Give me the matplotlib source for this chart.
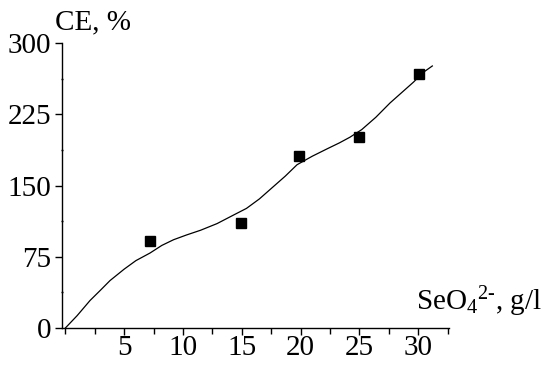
import matplotlib
matplotlib.use("Agg")
import matplotlib.pyplot as plt
from matplotlib.ticker import MultipleLocator

plt.rcParams['font.family'] = ['Liberation Serif', 'DejaVu Serif']
plt.rcParams['mathtext.fontset'] = 'custom'
plt.rcParams['mathtext.rm'] = 'Liberation Serif'
plt.rcParams['mathtext.it'] = 'Liberation Serif'

# measured points
point_x = [7.2, 14.9, 19.9, 25.0, 30.1]
point_y = [92, 111, 181, 201, 268]

# fitted curve
curve_x = [0.0, 1.0, 2.1, 3.0, 3.8, 5.0, 6.0, 7.2, 8.2, 9.2, 10.3, 11.5, 12.9, 14.3,
           15.4, 16.5, 17.6, 18.7, 19.7, 21.0, 22.3, 23.3, 24.2, 25.2, 26.4, 27.6,
           28.6, 29.6, 30.4, 31.2]
curve_y = [0, 13, 29, 40, 50, 62, 71, 79, 87, 93, 98, 103, 110, 119,
           126, 136, 148, 160, 172, 181, 189, 195, 201, 209, 222, 237,
           248, 259, 269, 276]

xticks = [5, 10, 15, 20, 25, 30]
yticks = [0, 75, 150, 225, 300]

fig = plt.figure(figsize=(5.5, 3.69), dpi=100)
ax = fig.add_axes([0.113, 0.111, 0.703, 0.772])

ax.plot(curve_x, curve_y, color='black', lw=0.9)
ax.plot(point_x, point_y, 's', color='black', ms=6.5, mec='black')

ax.set_xlim(-0.27, 32.6)
ax.set_ylim(0, 300)
ax.set_xticks(xticks)
ax.set_yticks(yticks)
ax.xaxis.set_minor_locator(MultipleLocator(2.5))
ax.yaxis.set_minor_locator(MultipleLocator(37.5))

for s in ['top', 'right']:
    ax.spines[s].set_visible(False)
for s in ['left', 'bottom']:
    ax.spines[s].set_linewidth(1.0)

ax.tick_params(axis='both', which='major', labelsize=21, length=5, width=1,
               direction='out', colors='black')
ax.tick_params(axis='x', which='major', pad=0)
ax.tick_params(axis='y', which='major', pad=3)
ax.tick_params(axis='x', which='minor', length=4, width=1, direction='out')
ax.tick_params(axis='y', which='minor', length=2, width=1, direction='inout')

fig.text(0.10, 0.905, 'CE, %', fontsize=21, ha='left', va='bottom')
fig.text(0.985, 0.135, r'SeO$_4$$^{2\mathrm{\text{-}}}$, g/l', fontsize=21, ha='right', va='bottom')

fig.savefig('out.png', dpi=100)
